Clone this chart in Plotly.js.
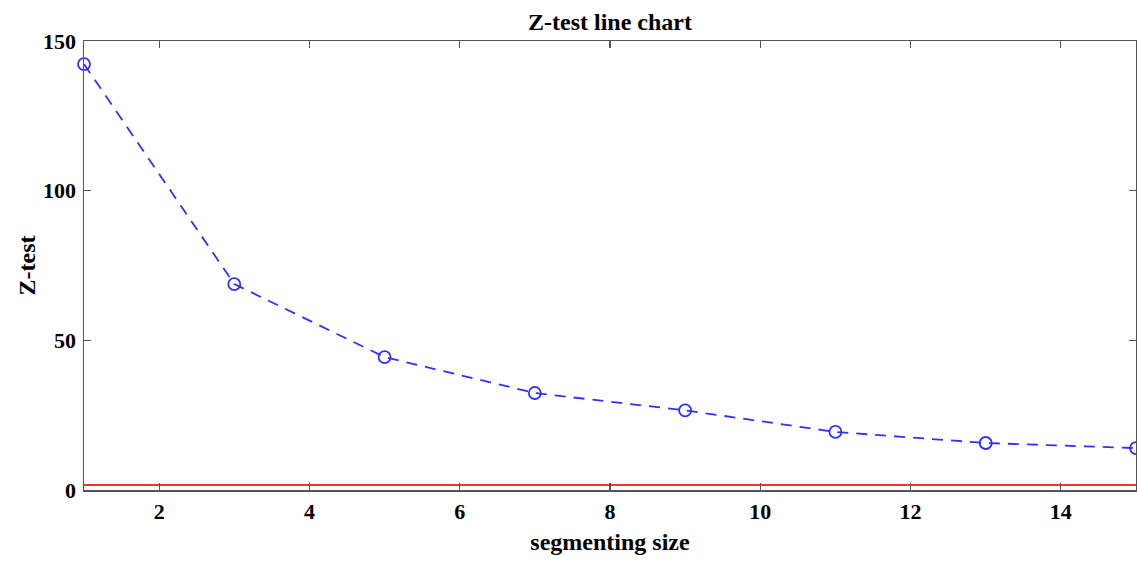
<!DOCTYPE html>
<html>
<head>
<meta charset="utf-8">
<script src="https://cdn.plot.ly/plotly-3.0.1.min.js"></script>
<style>html,body{margin:0;padding:0;background:#fff;}#chart{width:1137px;height:562px;}</style>
</head>
<body>
<div id="chart"></div>
<script>
const segmentSizes = [1, 3, 5, 7, 9, 11, 13, 15];
const zTestValues = [142.3, 68.8, 44.4, 32.4, 26.6, 19.4, 15.7, 14.0];
const thresholdX = [1, 15];
const thresholdY = [1.645, 1.645];
const xTicks = [2, 4, 6, 8, 10, 12, 14];
const yTicks = [0, 50, 100, 150];

const font = {family: 'Liberation Serif, Times New Roman, serif', color: '#000'};

const traces = [
  {
    x: thresholdX, y: thresholdY, type: 'scatter', mode: 'lines',
    line: {color: '#ff3030', width: 2}, hoverinfo: 'skip', showlegend: false
  },
  {
    x: segmentSizes, y: zTestValues, type: 'scatter', mode: 'lines+markers',
    line: {color: '#3030ff', width: 1.8, dash: '11px,8px'},
    marker: {symbol: 'circle-open', size: 12, color: '#3030ff', line: {width: 1.8, color: '#3030ff'}},
    showlegend: false, cliponaxis: false
  }
];

const axisCommon = {
  showgrid: false, zeroline: false, showline: true, mirror: 'ticks',
  linecolor: '#555', linewidth: 1.5, ticks: 'inside', ticklen: 7, tickcolor: '#555', tickwidth: 1.2,
  tickfont: Object.assign({size: 22, weight: 'bold'}, font)
};

const layout = {
  width: 1137, height: 562,
  margin: {l: 84, r: 1, t: 41, b: 72},
  paper_bgcolor: '#fff', plot_bgcolor: '#fff',
  title: {text: '<b>Z-test line chart</b>', x: 0.5365, xanchor: 'center', y: 0.962, yanchor: 'middle',
          font: Object.assign({size: 24}, font)},
  xaxis: Object.assign({}, axisCommon, {
    range: [1, 15], tickvals: xTicks, ticktext: xTicks.map(String), ticklabelstandoff: 1,
    title: {text: '<b>segmenting size</b>', font: Object.assign({size: 24}, font), standoff: 10}
  }),
  yaxis: Object.assign({}, axisCommon, {
    range: [0, 150], tickvals: yTicks, ticktext: yTicks.map(String), ticklabelstandoff: 2,
    title: {text: '<b>Z-test</b>', font: Object.assign({size: 24}, font), standoff: 0}
  })
};

Plotly.newPlot('chart', traces, layout, {displayModeBar: false, staticPlot: true});
</script>
</body>
</html>
